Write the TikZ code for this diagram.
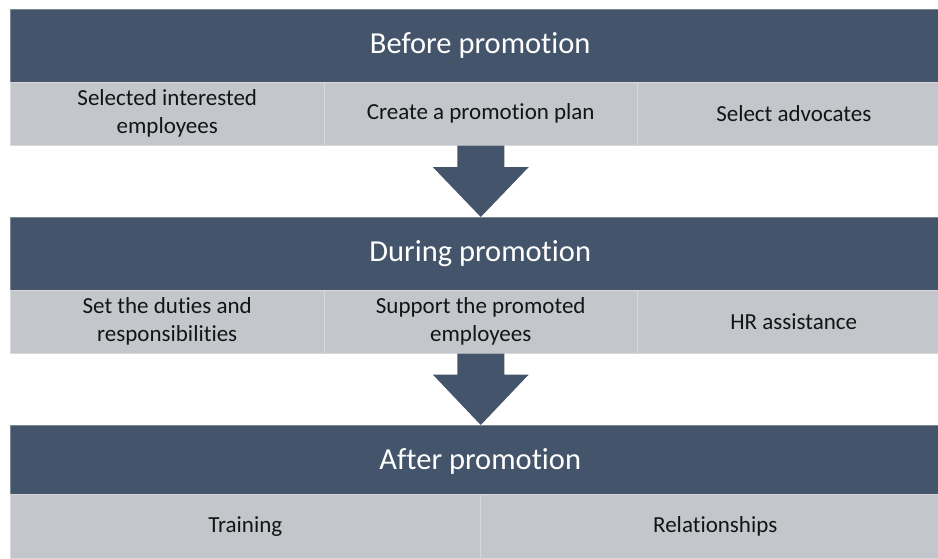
\documentclass[tikz,border=0pt]{standalone}
\usepackage{fontspec}
\setmainfont{Carlito}[Ligatures={NoCommon}]
\usetikzlibrary{calc}
\definecolor{slate}{RGB}{68,84,106}
\definecolor{cellgrey}{RGB}{195,198,202}
\definecolor{celledge}{RGB}{214,216,219}
\definecolor{celltext}{RGB}{20,20,20}
\tikzset{
  header/.style={fill=slate, draw=slate!70!white, line width=0.5pt, text=white, inner sep=0pt,
    minimum width=940pt, minimum height=73pt, anchor=north west,
    font=\fontsize{30.5}{33}\selectfont},
  cell/.style={fill=cellgrey, draw=celledge, line width=0.5pt, text=celltext, inner sep=0pt,
    minimum height=63pt, anchor=north west, align=center,
    font=\fontsize{23}{28}\selectfont},
  flow/.style={fill=slate, draw=none}
}
\begin{document}
\begin{tikzpicture}[x=1pt,y=-1pt]
\useasboundingbox (0,0) rectangle (938,558);
\begin{scope}
\clip (0,0) rectangle (938,558);
% block 1
\node[header] (h1) at (10,9) {Before promotion};
\node[cell, minimum width=314pt] (c11) at (10,82) {Selected interested\\employees};
\node[cell, minimum width=313pt] (c12) at (324,82) {Create a promotion plan};
\node[cell, minimum width=313pt] (c13) at (637,82) {Select advocates};
% block 2
\node[header] (h2) at (10,217) {During promotion};
\node[cell, minimum width=314pt] (c21) at (10,290) {Set the duties and\\responsibilities};
\node[cell, minimum width=313pt] (c22) at (324,290) {Support the promoted\\employees};
\node[cell, minimum width=313pt] (c23) at (637,290) {HR assistance};
% block 3
\node[header] (h3) at (10,425) {After promotion};
\node[cell, minimum width=470pt, minimum height=64pt] (c31) at (10,494) {Training};
\node[cell, minimum width=470pt, minimum height=64pt] (c32) at (480,494) {Relationships};
\end{scope}
% arrows
\coordinate (a1s) at (c12.south);
\fill[flow] ($(a1s)+(-23.5,0)$) -- ($(a1s)+(23.5,0)$) -- ($(a1s)+(23.5,21.5)$) -- ($(a1s)+(48,21.5)$)
  -- (h2.north -| a1s) -- ($(a1s)+(-48,21.5)$) -- ($(a1s)+(-23.5,21.5)$) -- cycle;
\coordinate (a2s) at (c22.south);
\fill[flow] ($(a2s)+(-23.5,0)$) -- ($(a2s)+(23.5,0)$) -- ($(a2s)+(23.5,21)$) -- ($(a2s)+(48,21)$)
  -- (h3.north -| a2s) -- ($(a2s)+(-48,21)$) -- ($(a2s)+(-23.5,21)$) -- cycle;
\end{tikzpicture}
\end{document}
